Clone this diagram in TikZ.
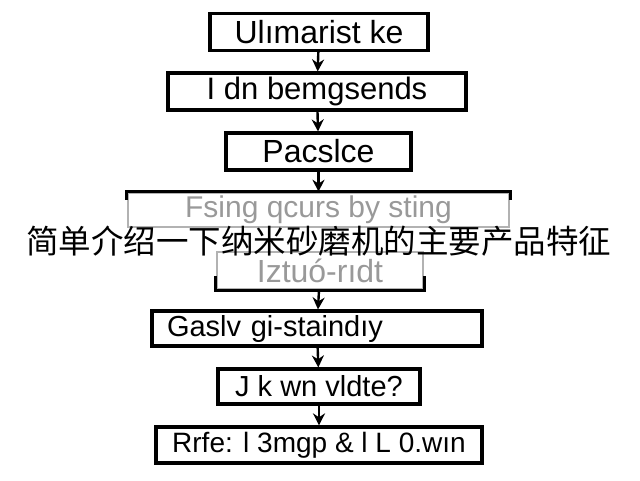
\documentclass[tikz,border=0pt]{standalone}
\usepackage{fontspec}
\setmainfont{Liberation Sans}
\newfontfamily\cjk{Noto Sans CJK SC}
\usetikzlibrary{arrows.meta}
\newcommand\fsz[1]{\fontsize{#1}{#1}\selectfont}
\begin{document}
\begin{tikzpicture}[x=1pt,y=-1pt,
  boxn/.style={draw=black,line width=3.2pt,minimum height=#1,inner sep=0pt},
  boxn/.default=37pt,
  grayn/.style={draw=black!30,line width=2.6pt,inner sep=0pt,text=black!40},
  edgeb/.style={line width=3.2pt},
  arr/.style={-{Stealth[length=12pt,width=12pt]},line width=2.4pt}]
\useasboundingbox (0,0) rectangle (640,480);
\node[boxn,minimum width=218pt,font=\fsz{32}] (b1) at (319,32) {Ulımarist ke};
\node[boxn,minimum width=298pt,font=\fsz{31}] (b2) at (317,91.5) {I dn bemgsends};
\node[boxn,minimum width=185pt,font=\fsz{32}] (b3) at (318.5,151.5) {Pacslce};
\node[grayn,minimum width=381pt,minimum height=34pt,font=\fsz{30}] (b4) at (318.5,210) {Fsing qcurs by sting};
\draw[edgeb] ([yshift=-8pt]b4.north west) -- (b4.north west) -- (b4.north east) -- ([yshift=-8pt]b4.north east);
\node[grayn,minimum width=206pt,minimum height=37pt,font=\fsz{32}] (b5) at (320,270.5) {Iztuó-rıdt};
\draw[edgeb] ([yshift=14pt]b5.south west) -- (b5.south west) -- (b5.south east) -- ([yshift=14pt]b5.south east);
\node[boxn=35pt,minimum width=330pt,text width=300pt,align=left,font=\fsz{29}] (b6) at (317,328.5) {Gaslv gi-staindıy};
\node[boxn=35pt,minimum width=202pt,font=\fsz{29}] (b7) at (319,386.5) {J k wn vldte?};
\node[boxn=36pt,minimum width=326pt,font=\fsz{28}] (b8) at (319,445) {Rrfe: l 3mgp \& l L 0.wın};
\draw[arr] (b1) -- (b2);
\draw[arr] (b2) -- (b3);
\draw[arr] (b3) -- (b4);
\draw[arr] (b5) -- (b6);
\draw[arr] (b6) -- (b7);
\draw[arr] (b7) -- (b8);
\node[font=\cjk\fsz{32.5},inner sep=0pt] (t) at (319,241) {简单介绍一下纳米砂磨机的主要产品特征};
\end{tikzpicture}
\end{document}
